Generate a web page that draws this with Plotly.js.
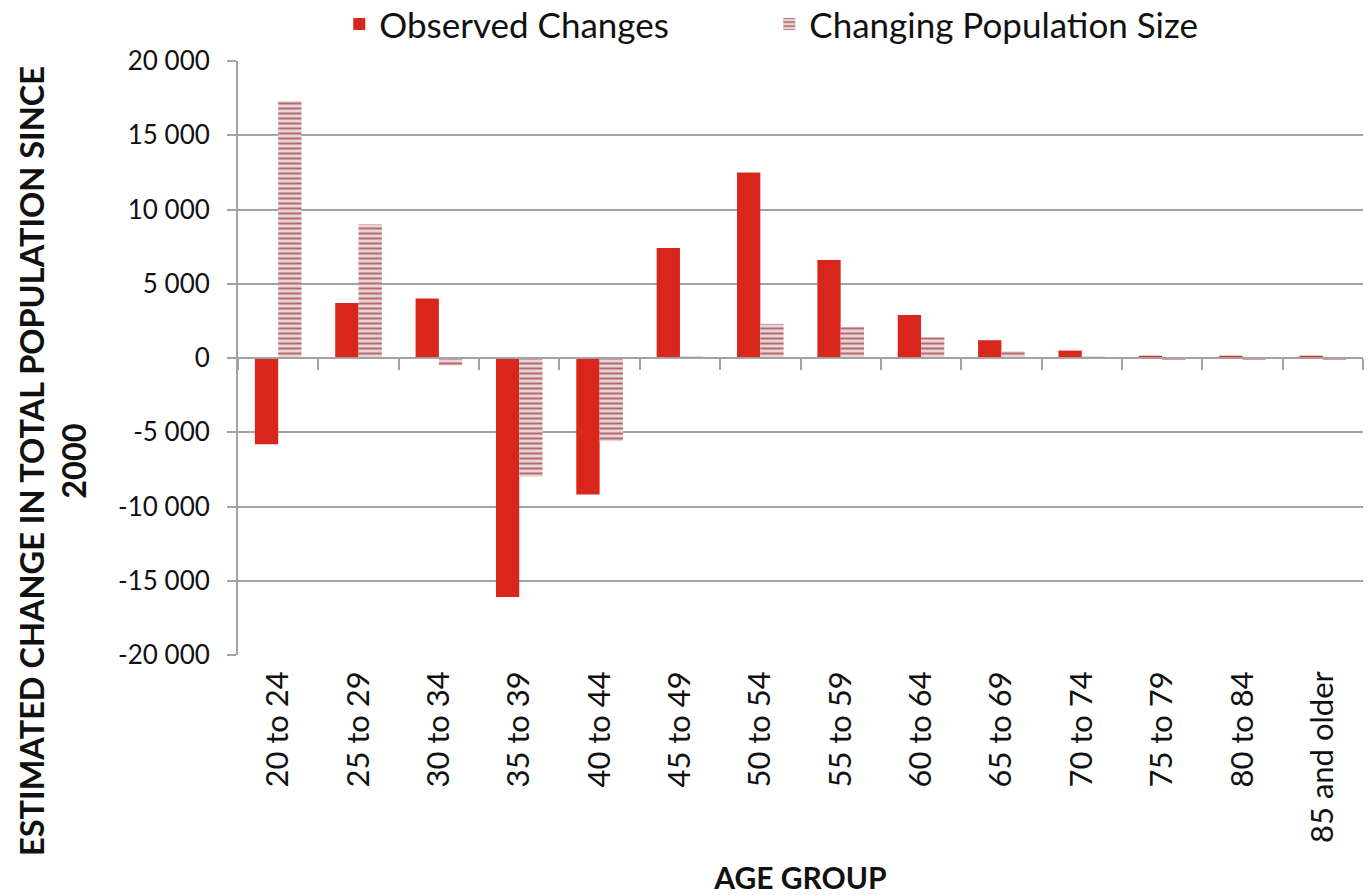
<!DOCTYPE html>
<html>
<head>
<meta charset="utf-8">
<script src="https://cdn.plot.ly/plotly-3.0.1.min.js"></script>
<style>
html,body{margin:0;padding:0;background:#fff;}
#chart{width:1371px;height:895px;}
</style>
</head>
<body>
<div id="chart"></div>
<script>
var ageGroups = ["20 to 24","25 to 29","30 to 34","35 to 39","40 to 44","45 to 49","50 to 54","55 to 59","60 to 64","65 to 69","70 to 74","75 to 79","80 to 84","85 and older"];
var observedChanges = [-5800, 3700, 4000, -16100, -9200, 7400, 12500, 6600, 2900, 1200, 500, 150, 150, 150];
var changingPopulationSize = [17300, 9000, -500, -8000, -5600, 100, 2300, 2100, 1400, 450, 100, -100, -100, -100];
var yTickVals = [20000, 15000, 10000, 5000, 0, -5000, -10000, -15000, -20000];
var yTickText = ["20 000","15 000","10 000","5 000","0","-5 000","-10 000","-15 000","-20 000"];

var FONT = "Lato, 'Open Sans', sans-serif";
var GRID = "#a3a3a3";

var traces = [
  {
    type: "bar",
    name: "Observed Changes",
    x: ageGroups,
    y: observedChanges,
    marker: {color: "#d9261c", line: {width: 0}},
    hoverinfo: "x+y"
  },
  {
    type: "bar",
    name: "Changing Population Size",
    x: ageGroups,
    y: changingPopulationSize,
    marker: {
      color: "#e6cfd0",
      line: {width: 0},
      pattern: {shape: "-", fgcolor: "#b46a70", bgcolor: "#e8d6d7", size: 5, solidity: 0.4}
    },
    hoverinfo: "x+y"
  },
  {
    // carrier for the category axis drawn along the zero line (invisible)
    type: "scatter",
    mode: "markers",
    x: ageGroups,
    y: ageGroups.map(function(){ return 0; }),
    xaxis: "x2",
    marker: {opacity: 0, size: 1},
    showlegend: false,
    hoverinfo: "skip"
  }
];

var layout = {
  width: 1371,
  height: 895,
  paper_bgcolor: "#ffffff",
  plot_bgcolor: "#ffffff",
  font: {family: FONT, color: "#111111", size: 27},
  margin: {l: 238, r: 8, t: 61, b: 240, autoexpand: false},
  barmode: "group",
  bargap: 0.42,
  bargroupgap: 0,
  showlegend: true,
  legend: {
    orientation: "h",
    x: 0.09, xanchor: "left",
    y: 1.012, yanchor: "bottom",
    font: {family: FONT, size: 35, color: "#111111"},
    itemwidth: 30,
    entrywidth: 385,
    traceorder: "normal",
    bgcolor: "rgba(0,0,0,0)"
  },
  xaxis: {
    type: "category",
    categoryarray: ageGroups,
    range: [-0.5, ageGroups.length - 0.5],
    showgrid: false,
    zeroline: false,
    showline: false,
    ticks: "",
    tickangle: -90,
    tickfont: {family: FONT, size: 31, color: "#111111"},
    ticklabelstandoff: 9,
    title: {text: "<b>AGE GROUP</b>", font: {family: FONT, size: 30, color: "#111111"}, standoff: 40},
    automargin: false,
    fixedrange: true
  },
  xaxis2: {
    type: "category",
    categoryarray: ageGroups,
    overlaying: "x",
    anchor: "free",
    position: 0.5,
    side: "bottom",
    range: [-0.5, ageGroups.length - 0.5],
    tickson: "boundaries",
    showticklabels: false,
    ticks: "outside",
    ticklen: 11,
    tickwidth: 2,
    tickcolor: GRID,
    showline: true,
    linecolor: GRID,
    linewidth: 2,
    showgrid: false,
    zeroline: false,
    fixedrange: true
  },
  yaxis: {
    range: [-20000, 20000],
    tickvals: yTickVals,
    ticktext: yTickText,
    showgrid: true,
    gridcolor: GRID,
    gridwidth: 2,
    zeroline: false,
    showline: true,
    linecolor: GRID,
    linewidth: 2,
    ticks: "outside",
    ticklen: 9,
    tickwidth: 2,
    tickcolor: GRID,
    tickfont: {family: FONT, size: 26, color: "#111111"},
    ticklabelstandoff: 12,
    automargin: false,
    fixedrange: true
  },
  annotations: [
    {
      xref: "paper", yref: "paper",
      x: 0, y: 0.5,
      xanchor: "center", yanchor: "middle",
      xshift: -186, yshift: -103,
      text: "<b>ESTIMATED CHANGE IN TOTAL POPULATION SINCE<br>2000</b>",
      textangle: -90,
      showarrow: false,
      align: "center",
      font: {family: FONT, size: 32.5, color: "#111111"}
    }
  ]
};

Plotly.newPlot("chart", traces, layout, {displayModeBar: false, responsive: false});
</script>
</body>
</html>
